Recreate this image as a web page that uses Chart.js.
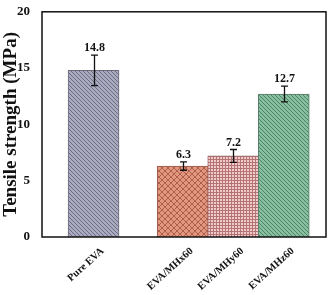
<!DOCTYPE html>
<html>
<head>
<meta charset="utf-8">
<script src="https://cdn.jsdelivr.net/npm/chart.js@4/dist/chart.umd.min.js"></script>
<style>
  html, body { margin: 0; padding: 0; background: #fff; }
  #wrap { width: 331px; height: 295px; }
</style>
</head>
<body>
<div id="wrap"><canvas id="myChart" width="331" height="295"></canvas></div>
<script>
var samples = ['Pure EVA', 'EVA/MHx60', 'EVA/MHy60', 'EVA/MHz60'];
var positions = [1, 2.73, 3.71, 4.69];
var strength = [14.8, 6.3, 7.2, 12.7];
var errors = [1.35, 0.37, 0.57, 0.7];
var valueLabels = ['14.8', '6.3', '7.2', '12.7'];

function makePattern(kind) {
    var c = document.createElement('canvas');
    var p = c.getContext('2d');
    if (kind === 'diag') {
        c.width = 4; c.height = 4;
        p.fillStyle = '#a9a9c0';
        p.fillRect(0, 0, 4, 4);
        p.fillStyle = '#6c6c82';
        for (var i = 0; i < 4; i++) p.fillRect(i, i, 1, 1);
    } else if (kind === 'green') {
        c.width = 4; c.height = 4;
        p.fillStyle = '#88bfa0';
        p.fillRect(0, 0, 4, 4);
        p.fillStyle = '#4d8466';
        for (var i = 0; i < 4; i++) p.fillRect(i, i, 1, 1);
    } else if (kind === 'cross') {
        c.width = 6; c.height = 6;
        p.fillStyle = '#e3957e';
        p.fillRect(0, 0, 6, 6);
        p.fillStyle = '#a9604c';
        for (var i = 0; i < 6; i++) {
            p.fillRect(i, i, 1, 1);
            p.fillRect(5 - i, i, 1, 1);
        }
    } else {
        c.width = 3; c.height = 3;
        p.fillStyle = '#f2cccc';
        p.fillRect(0, 0, 3, 3);
        p.fillStyle = '#b47474';
        p.fillRect(0, 0, 3, 1);
        p.fillRect(0, 0, 1, 3);
    }
    return p.createPattern(c, 'repeat');
}

var ctx = document.getElementById('myChart').getContext('2d');
var fills = [makePattern('diag'), makePattern('cross'), makePattern('grid'), makePattern('green')];

var serif = '"Liberation Serif", "Times New Roman", serif';

var extras = {
    id: 'extras',
    afterDatasetsDraw: function (chart) {
        var c = chart.ctx;
        var xs = chart.scales.x, ys = chart.scales.y;
        c.save();
        c.strokeStyle = '#111';
        c.lineWidth = 1.3;
        c.fillStyle = '#111';
        c.font = 'bold 12px ' + serif;
        c.textAlign = 'center';
        c.textBaseline = 'bottom';
        for (var i = 0; i < strength.length; i++) {
            var x = Math.round(xs.getPixelForValue(positions[i])) + 0.5;
            var top = ys.getPixelForValue(strength[i] + errors[i]);
            var bot = ys.getPixelForValue(strength[i] - errors[i]);
            c.beginPath();
            c.moveTo(x, top); c.lineTo(x, bot);
            c.moveTo(x - 3.5, top); c.lineTo(x + 3.5, top);
            c.moveTo(x - 3.5, bot); c.lineTo(x + 3.5, bot);
            c.stroke();
            c.fillText(valueLabels[i], x, top - 1);
        }
        var a = chart.chartArea;
        c.lineWidth = 1.5;
        c.strokeRect(a.left, a.top, a.right - a.left, a.bottom - a.top);
        c.restore();
    }
};

var myChart = new Chart(ctx, {
    type: 'bar',
    data: {
        datasets: [{
            label: 'Tensile strength',
            data: positions.map(function (p, i) { return { x: p, y: strength[i] }; }),
            backgroundColor: fills,
            borderColor: ['#6a6a78', '#9a5a4a', '#9a6a6a', '#5a7a66'],
            borderWidth: 1,
            barThickness: 51
        }]
    },
    options: {
        responsive: false,
        animation: false,
        layout: { padding: { top: 7, right: 5, left: 0, bottom: 0 } },
        plugins: { legend: { display: false }, tooltip: { enabled: false } },
        scales: {
            x: {
                type: 'linear',
                offset: false,
                min: 0,
                max: 5.51,
                grid: { display: false },
                border: { display: false },
                afterBuildTicks: function (scale) {
                    scale.ticks = positions.map(function (v) { return { value: v }; });
                },
                afterFit: function (scale) { scale.height = 58; },
                ticks: {
                    autoSkip: false,
                    minRotation: 42,
                    maxRotation: 42,
                    padding: 0,
                    labelOffset: 9,
                    color: '#111',
                    font: { family: serif, weight: 'bold', size: 10.5 },
                    callback: function (value, index) { return samples[index]; }
                }
            },
            y: {
                min: 0,
                max: 20,
                grid: { display: false },
                border: { display: false },
                afterFit: function (scale) { scale.width = 42; },
                title: {
                    display: true,
                    text: 'Tensile strength (MPa)',
                    color: '#111',
                    padding: 0,
                    font: { family: serif, weight: 'bold', size: 19 }
                },
                ticks: {
                    stepSize: 5,
                    padding: 4,
                    color: '#111',
                    font: { family: serif, weight: 'bold', size: 13 }
                }
            }
        }
    },
    plugins: [extras]
});
</script>
</body>
</html>
